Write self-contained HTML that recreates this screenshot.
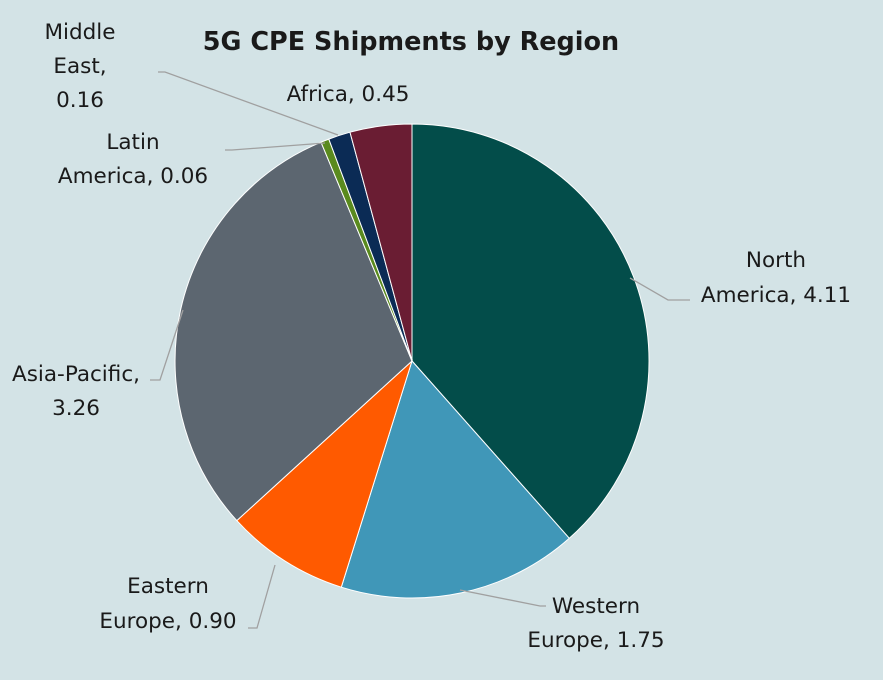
<!DOCTYPE html>
<html><head><style>
html,body{margin:0;padding:0;background:#d3e3e6;}
text{font-family:"DejaVu Sans",sans-serif;fill:#1a1a1a;}
</style></head><body>
<svg width="883" height="675" viewBox="0 0 883 675" xmlns="http://www.w3.org/2000/svg">
<rect width="883" height="675" fill="#d3e3e6"/>
<text x="411" y="50" font-size="25.5" font-weight="bold" text-anchor="middle">5G CPE Shipments by Region</text>
<g stroke="#ffffff" stroke-width="1">
<path d="M412,361 L412,124 A237,237 0 0 1 569.3,538.3 Z" fill="#034d4a"/>
<path d="M412,361 L569.3,538.3 A237,237 0 0 1 341.3,587.2 Z" fill="#4097b8"/>
<path d="M412,361 L341.3,587.2 A237,237 0 0 1 236.8,520.6 Z" fill="#ff5a00"/>
<path d="M412,361 L236.8,520.6 A237,237 0 0 1 321.0,142.2 Z" fill="#5c6670"/>
<path d="M412,361 L321.0,142.2 A237,237 0 0 1 328.8,139.1 Z" fill="#5a8a1e"/>
<path d="M412,361 L328.8,139.1 A237,237 0 0 1 350.0,132.2 Z" fill="#0b2b55"/>
<path d="M412,361 L350.0,132.2 A237,237 0 0 1 412,124 Z" fill="#6a1d33"/>
</g>
<g stroke="#a0a0a0" stroke-width="1.3" fill="none">
<polyline points="630,278 668,300 690,300"/>
<polyline points="460,590 540,606 546,606"/>
<polyline points="275,565 257,628 248,628"/>
<polyline points="183,310 160,380 150,380"/>
<polyline points="325,143 232,150 225,150"/>
<polyline points="338,135 165,72 158,72"/>
</g>
<g font-size="21.5">
<text x="776" y="267" text-anchor="middle">North</text>
<text x="776" y="302" text-anchor="middle">America, 4.11</text>
<text x="596" y="613" text-anchor="middle">Western</text>
<text x="596" y="647" text-anchor="middle">Europe, 1.75</text>
<text x="168" y="593" text-anchor="middle">Eastern</text>
<text x="168" y="628" text-anchor="middle">Europe, 0.90</text>
<text x="76" y="381" text-anchor="middle">Asia-Pacific,</text>
<text x="76" y="415" text-anchor="middle">3.26</text>
<text x="133" y="149" text-anchor="middle">Latin</text>
<text x="133" y="183" text-anchor="middle">America, 0.06</text>
<text x="80" y="39" text-anchor="middle">Middle</text>
<text x="80" y="73" text-anchor="middle">East,</text>
<text x="80" y="107" text-anchor="middle">0.16</text>
<text x="348" y="101" text-anchor="middle">Africa, 0.45</text>
</g>
</svg>
</body></html>
